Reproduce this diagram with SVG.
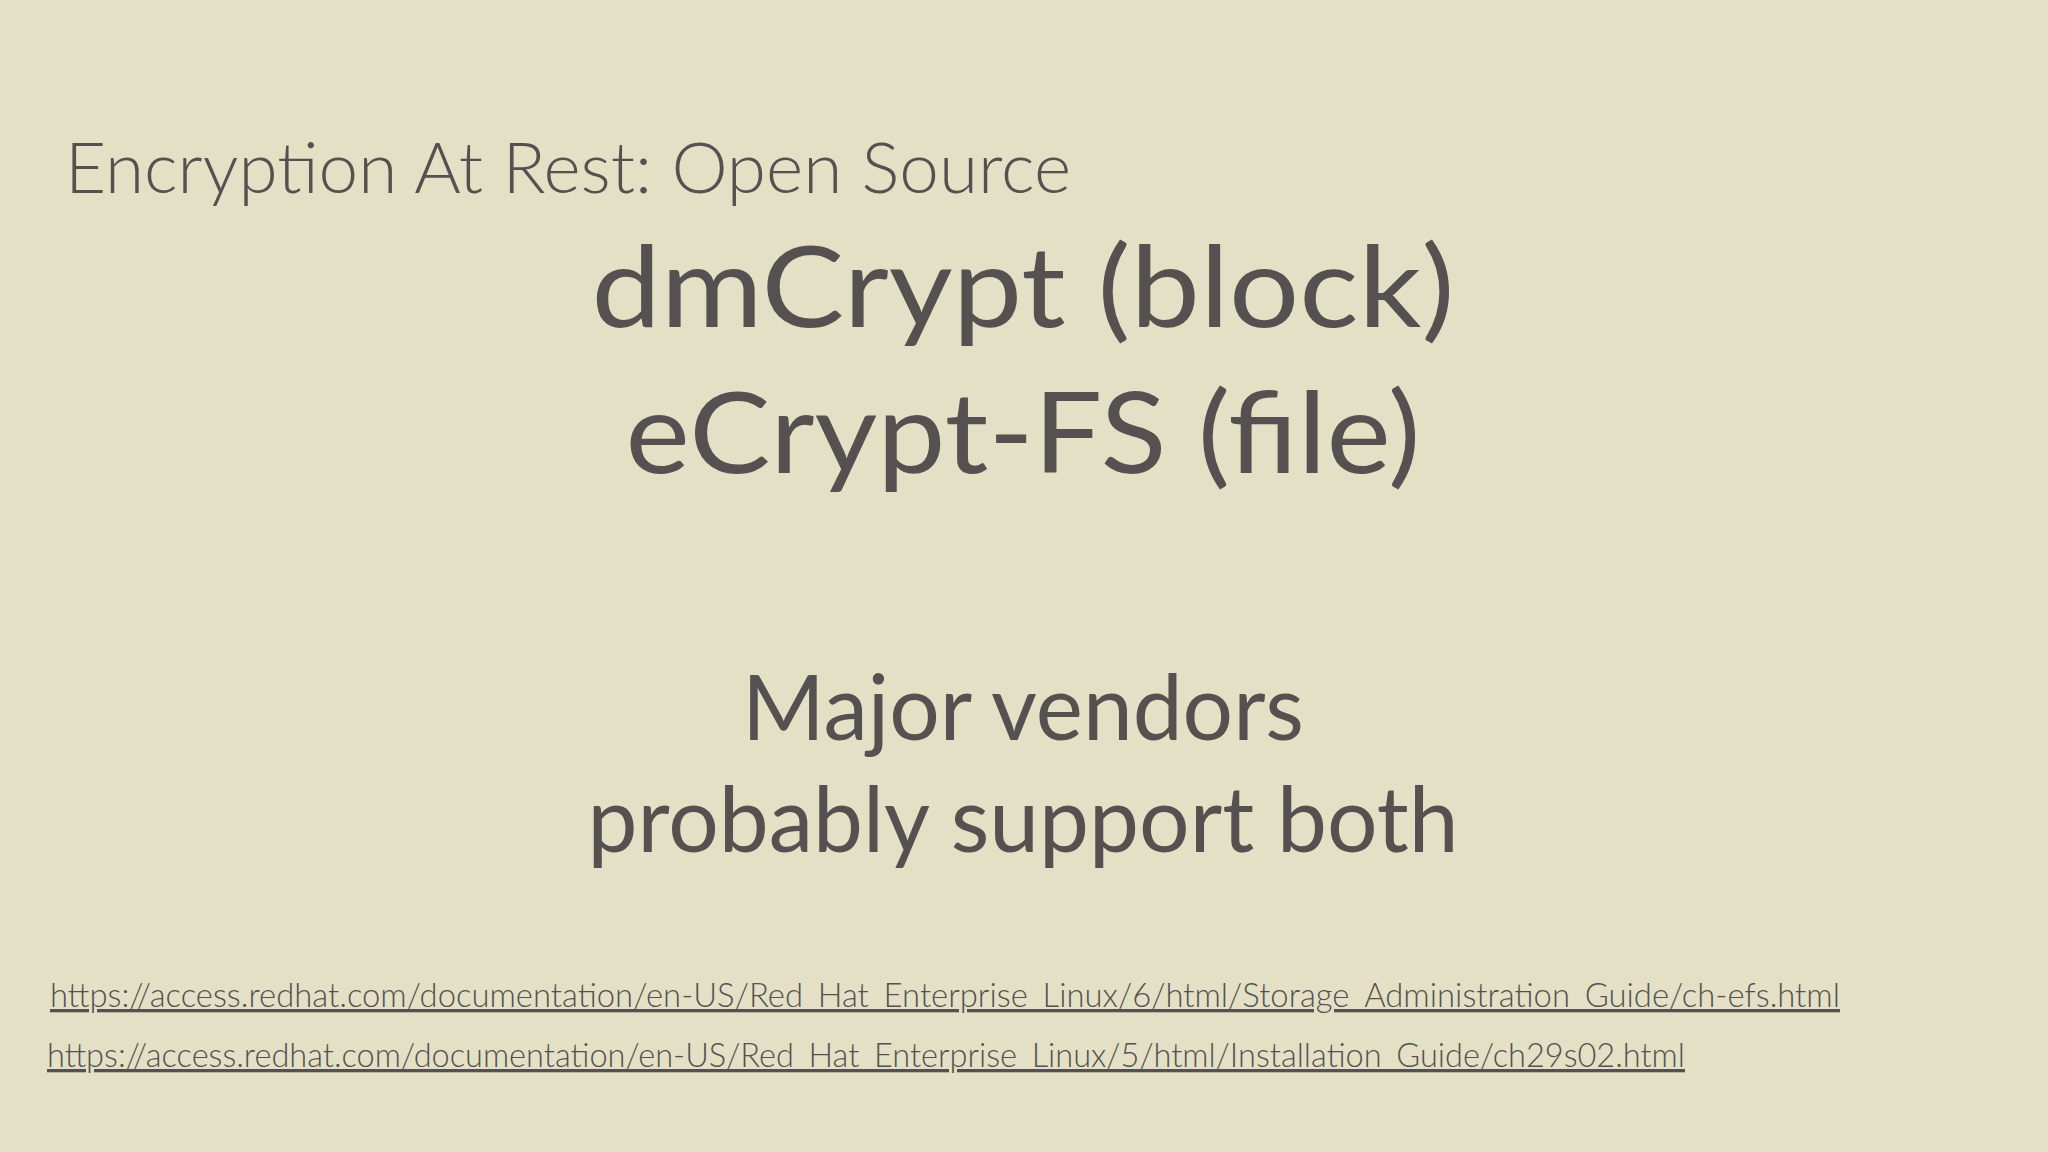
<svg xmlns="http://www.w3.org/2000/svg" width="2048" height="1152" viewBox="0 0 2048 1152">
<style>
text{font-family:Lato,"Open Sans","Liberation Sans",sans-serif;fill:#545150}
.big{font-size:112px;text-anchor:middle}
.mid{font-size:92px;text-anchor:middle}
.link{font-size:33px;font-weight:300;text-decoration:underline}
</style>
<rect width="2048" height="1152" fill="#e3e0c6"/>
<g id="title"><text x="65" y="193" font-size="70" font-weight="300" textLength="1006" lengthAdjust="spacingAndGlyphs">Encryption At Rest: Open Source</text></g>
<g id="main">
<text class="big" x="1023" y="327" textLength="863" lengthAdjust="spacingAndGlyphs">dmCrypt (block)</text>
<text class="big" x="1023" y="473" textLength="795" lengthAdjust="spacingAndGlyphs">eCrypt-FS (file)</text>
</g>
<g id="vendors">
<text class="mid" x="1023" y="740" textLength="562" lengthAdjust="spacingAndGlyphs">Major vendors</text>
<text class="mid" x="1023" y="852" textLength="871" lengthAdjust="spacingAndGlyphs">probably support both</text>
</g>
<g id="links">
<text class="link" x="50" y="1007" textLength="1790" lengthAdjust="spacingAndGlyphs">https://access.redhat.com/documentation/en-US/Red_Hat_Enterprise_Linux/6/html/Storage_Administration_Guide/ch-efs.html</text>
<text class="link" x="47" y="1067" textLength="1638" lengthAdjust="spacingAndGlyphs">https://access.redhat.com/documentation/en-US/Red_Hat_Enterprise_Linux/5/html/Installation_Guide/ch29s02.html</text>
</g>
</svg>
